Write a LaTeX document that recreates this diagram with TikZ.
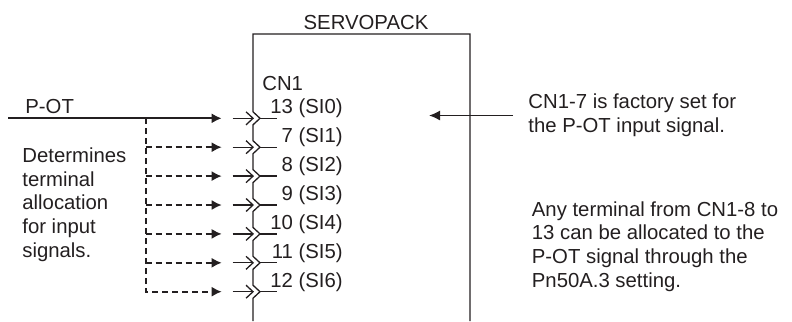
\documentclass[tikz,border=0pt]{standalone}
\usepackage{fontspec}
\setmainfont{Liberation Sans}
\usepackage{xcolor}
\usetikzlibrary{arrows.meta,positioning}
\definecolor{ink}{RGB}{35,31,32}
\tikzset{
  txt/.style={font=\fontsize{10.2}{11.8}\selectfont, text=ink, inner sep=0pt, align=left},
  edge/.style={draw=ink, line width=0.65bp},
  sigarrow/.style={-{Latex[length=5bp,width=5bp]}, draw=ink, line width=1.05bp},
  dasharrow/.style={-{Latex[length=5bp,width=5bp]}, draw=ink, line width=0.85bp, dash pattern=on 3bp off 2bp},
  openarrow/.style={-{Straight Barb[length=3.5bp,width=6.5bp]}, draw=ink, line width=0.65bp},
  notearrow/.style={-{Latex[length=5.5bp,width=5bp]}, draw=ink, line width=0.75bp}
}
\begin{document}
\begin{tikzpicture}[x=0.5bp,y=-0.5bp]
\useasboundingbox (0,0) rectangle (792,321);
% box
\node[txt, anchor=base] (servo) at (366,29) {SERVOPACK};
\node[txt, anchor=base west] (cn) at (262,90) {CN1};
% pins
\foreach \pin/\sig [count=\i from 0] in {13/SI0,7/SI1,8/SI2,9/SI3,10/SI4,11/SI5,12/SI6}{
  \pgfmathsetmacro\ry{118.3+28.9*\i}
  \coordinate (pin\i) at (260,\ry);
  \coordinate (stub\i) at (277,\ry);
  \coordinate (in\i) at (254,\ry);
  \coordinate (feed\i) at (232.7,\ry);
  \coordinate (tip\i) at (221.7,\ry);
  \node[txt, anchor=base east] (lbl\i) at (343,\ry-4.5) {\pin\ (\sig)};
  \draw[openarrow] (feed\i) -- (in\i);
  \draw[edge] (pin\i) -- (stub\i);
}
\draw[edge] (470,321) -- (470,34) -- (253,34)
  \foreach \i in {0,...,6}{ -- ([shift={(-7,-6.5)}]pin\i) -- (pin\i) -- ([shift={(-7,6.5)}]pin\i) }
  -- (253,321);
% P-OT input
\node[txt, anchor=base west] (pot) at (25,113) {P-OT};
\coordinate (src) at (8,118.3);
\coordinate (split) at (145.7,118.3);
\draw[sigarrow] (src) -- (tip0);
\foreach \i in {1,...,5}
  \draw[dasharrow] (split |- tip\i) -- (tip\i);
\draw[dasharrow] (split) |- (tip6);
\node[txt, anchor=base west] (alloc) at (22,257) {Determines\\terminal\\allocation\\for input\\signals.};
% notes
\node[txt, anchor=base west] (factory) at (528,132) {CN1-7 is factory set for\\the P-OT input signal.};
\coordinate (noteend) at (513,115.5);
\coordinate (notetip) at (429,115.5);
\draw[notearrow] (noteend) -- (notetip);
\node[txt, anchor=base west] (anyterm) at (531.5,287) {Any terminal from CN1-8 to\\13 can be allocated to the\\P-OT signal through the\\Pn50A.3 setting.};
\end{tikzpicture}
\end{document}
